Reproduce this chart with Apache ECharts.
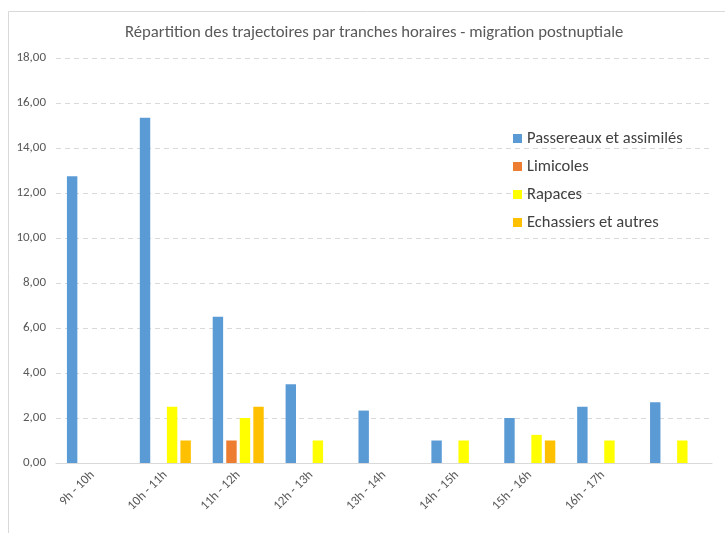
<!DOCTYPE html>
<html><head><meta charset="utf-8">
<script src="https://cdn.jsdelivr.net/npm/echarts@6/dist/echarts.min.js"></script>
<style>html,body{margin:0;padding:0;background:#fff}#c{width:725px;height:533px}</style>
</head><body><div id="c"></div>
<script>
const categories = ["9h - 10h","10h - 11h","11h - 12h","12h - 13h","13h - 14h","14h - 15h","15h - 16h","16h - 17h",""];
const passereaux = [12.75, 15.35, 6.5, 3.5, 2.33, 1, 2, 2.5, 2.7];
const limicoles  = [null, null, 1, null, null, null, null, null, null];
const rapaces    = [null, 2.5, 2, 1, null, 1, 1.25, 1, 1];
const echassiers = [null, 1, 2.5, null, null, null, 1, null, null];
const seriesNames = ["Passereaux et assimilés","Limicoles","Rapaces","Echassiers et autres"];
const colors = ["#5B9BD5","#ED7D31","#FFFF00","#FFC000"];
const yTicks = {min:0, max:18, interval:2};

const chart = echarts.init(document.getElementById('c'));
const font = "Calibri, Carlito, 'Open Sans', 'Noto Sans', sans-serif";
const mk = (name, data, color) => ({
  name, type:'bar', data, itemStyle:{color},
  barGap:'30%', barCategoryGap:'30%'
});
chart.setOption({
  animation:false,
  textStyle:{fontFamily:font},
  title:{text:"Répartition des trajectoires par tranches horaires - migration postnuptiale",
    left:120, top:19, textStyle:{fontFamily:font, fontSize:16.7, fontWeight:'normal', color:'#595959'}},
  graphic:[{type:'rect', shape:{x:8.5,y:11.5,width:740,height:540}, style:{fill:null, stroke:'#d9d9d9', lineWidth:1}, silent:true}],
  legend:{orient:'vertical', left:508, top:125, itemGap:11, itemWidth:9, itemHeight:9, icon:'rect',
    textStyle:{fontFamily:font, fontSize:16.5, color:'#404040'}, data:seriesNames},
  grid:{left:56, right:13, top:58, bottom:70},
  xAxis:{type:'category', data:categories,
    axisLine:{lineStyle:{color:'#d9d9d9'}}, axisTick:{show:false},
    axisLabel:{rotate:45, interval:0, fontSize:13, color:'#595959', margin:10}},
  yAxis:{type:'value', min:yTicks.min, max:yTicks.max, interval:yTicks.interval,
    axisLabel:{fontSize:13, color:'#595959', margin:10, formatter:v=>v.toFixed(2).replace('.',',')},
    splitLine:{lineStyle:{color:'#d9d9d9', type:[5,4]}}},
  series:[mk(seriesNames[0],passereaux,colors[0]),mk(seriesNames[1],limicoles,colors[1]),
          mk(seriesNames[2],rapaces,colors[2]),mk(seriesNames[3],echassiers,colors[3])]
});
</script></body></html>
